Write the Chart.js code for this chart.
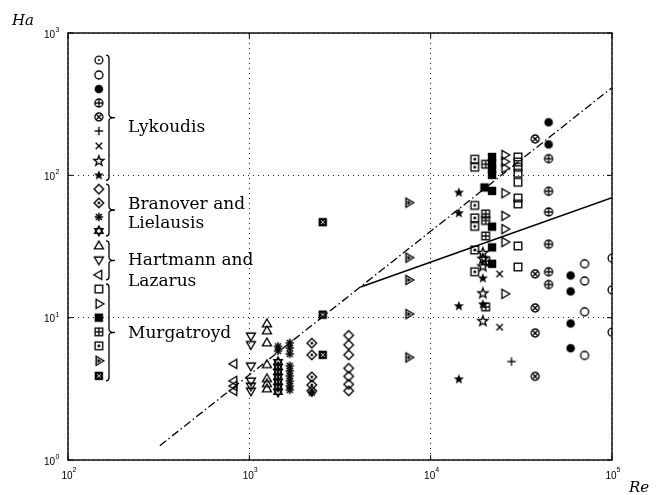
<!DOCTYPE html>
<html><head><meta charset="utf-8">
<script src="https://cdn.jsdelivr.net/npm/chart.js@4.4.1/dist/chart.umd.min.js"></script>
<style>html,body{margin:0;padding:0;background:#fff;}</style>
</head><body>
<canvas id="c" width="665" height="495"></canvas>
<script>
// ---------- DATA (Re, Ha) ----------
const xTickValues = [100, 1000, 10000, 100000];
const yTickValues = [1, 10, 100, 1000];
const xTickExp = ['2','3','4','5'];
const yTickExp = ['0','1','2','3'];

// Lykoudis
const lykDotCircle = [[1e5,26.2],[1e5,15.7],[1e5,7.9]];
const lykCircle = [[70600,23.9],[70600,18.1],[70600,11.0],[70600,5.43]];
const lykFilled = [[59100,19.8],[59100,15.3],[59100,9.1],[59100,6.1],[44700,236],[44700,165]];
const lykCirclePlus = [[44700,131],[44700,77.3],[44700,55.3],[44700,32.8],[44700,21.0],[44700,17.1]];
const lykCircleX = [[37700,180],[37700,20.3],[37700,11.7],[37700,7.8],[37700,3.87]];
const lykPlus = [[27900,4.92]];
const lykCross = [[24000,20.3],[24000,8.57]];
const lykStarOpen = [[19400,28.5],[19400,25.9],[19400,22.9],[19400,14.8],[19400,9.45]];
const lykStarFilled = [[19400,18.9],[19400,12.4],[14300,75.6],[14300,54.2],[14300,12.05],[14300,3.69]];
// Branover and Lielausis
const braDiamond = [[3530,7.51],[3530,6.44],[3530,5.48],[3530,4.41],[3530,3.87],[3530,3.40],[3530,3.06]];
const braDiamondDot = [[2210,6.62],[2210,5.48],[2210,3.84],[2210,3.37],[2210,3.06]];
const braAsterisk = [[1670,6.65],[1670,6.14],[1670,5.57],[1670,4.59],[1670,4.23],[1670,3.90],[1670,3.60],[1670,3.32],[1670,3.11],[2210,2.97],[1440,6.29],[1440,5.85]];
const braHexagram = [[1440,4.89],[1440,4.51],[1440,4.16],[1440,3.84],[1440,3.54],[1440,3.27],[1440,3.01]];
// Hartmann and Lazarus
const harTriUp = [[1250,9.04],[1250,8.07],[1250,6.65],[1250,4.67],[1250,3.72],[1250,3.43],[1250,3.16]];
const harTriDown = [[1020,7.45],[1020,6.49],[1020,4.59],[1020,3.60],[1020,3.32],[1020,3.06]];
const harTriLeft = [[822,4.74],[822,3.60],[822,3.32],[822,3.06]];
// Murgatroyd
const murSquare = [[30300,134.6],[30300,124],[30300,114],[30300,103.5],[30300,89.5],[30300,69.3],[30300,63],[30300,31.9],[30300,22.7]];
const murTriRight = [[25600,139],[25600,124.7],[25600,112.2],[25600,74.9],[25600,51.9],[25600,41.9],[25600,34.0],[25600,14.7]];
const murFilledSquare = [[21800,134.6],[21800,121.6],[21800,110.3],[21800,100.7],[21800,77.7],[21800,43.6],[21800,31.2],[21800,23.9],[19800,82.2]];
const murSquarePlus = [[20100,119.7],[20100,53.6],[20100,48.2],[20100,37.5],[20100,25.1],[20100,11.9]];
const murSquareDot = [[17500,129.8],[17500,114],[17500,61.5],[17500,50.2],[17500,43.8],[17500,29.9],[17500,21.0]];
const murTriRightDot = [[7570,64.3],[7570,26.4],[7570,18.4],[7570,10.6],[7570,5.25]];
const murSquareX = [[2540,46.9],[2540,10.5],[2540,5.48]];

// correlation lines
const dashDotLine = [[321,1.26],[1e5,413]];
const solidLine = [[4110,16.4],[1e5,69.7]];

// key column (markers drawn at Re = keyRe)
const keyRe = 148;
const keyMarkers = ['dotcircle','circle','fcircle','circplus','circx','plus','cross','starOpen','starFilled',
  'diamond','diamondDot','asterisk','hexagram',
  'triUp','triDown','triLeft',
  'square','triRight','fsquare','sqPlus','sqDot','triRightDot','sqX'];
const keyHa = [645,507,404,322,257,205,161,126,100, 80,64,51,40.7, 31.9,25.5,20, 15.9,12.5,10,7.95,6.34,4.98,3.9];
const groupNames = [['Lykoudis'],['Branover and','Lielausis'],['Hartmann and','Lazarus'],['Murgatroyd']];
const groupSizes = [9,4,3,7];

// ---------- MARKERS ----------
function mk(draw){const c=document.createElement('canvas');c.width=c.height=14;const g=c.getContext('2d');
  g.translate(7,7);g.strokeStyle='#000';g.fillStyle='#000';g.lineWidth=1.35;draw(g);return c;}
const circ=(g,r)=>{g.beginPath();g.arc(0,0,r,0,Math.PI*2);g.stroke();};
const line=(g,a,b,c,d)=>{g.beginPath();g.moveTo(a,b);g.lineTo(c,d);g.stroke();};
const star=(g,R,r,fill)=>{g.beginPath();for(let i=0;i<10;i++){const rr=i%2?r:R;const t=-Math.PI/2+i*Math.PI/5;g.lineTo(rr*Math.cos(t),rr*Math.sin(t));}g.closePath();fill?g.fill():g.stroke();};
const tri=(g,rot)=>{g.save();g.rotate(rot);g.beginPath();g.moveTo(0,-5);g.lineTo(4.5,2.8);g.lineTo(-4.5,2.8);g.closePath();g.stroke();g.restore();};
const dia=(g,r)=>{g.beginPath();g.moveTo(0,-r);g.lineTo(r,0);g.lineTo(0,r);g.lineTo(-r,0);g.closePath();};
const M = {
  dotcircle: mk(g=>{circ(g,3.9);g.beginPath();g.arc(0,0,1.1,0,7);g.fill();}),
  circle: mk(g=>circ(g,4)),
  fcircle: mk(g=>{g.beginPath();g.arc(0,0,4.3,0,7);g.fill();}),
  circplus: mk(g=>{circ(g,4);line(g,-4,0,4,0);line(g,0,-4,0,4);}),
  circx: mk(g=>{circ(g,4);line(g,-2.7,-2.7,2.7,2.7);line(g,-2.7,2.7,2.7,-2.7);}),
  plus: mk(g=>{line(g,-4.3,0,4.3,0);line(g,0,-4.3,0,4.3);}),
  cross: mk(g=>{line(g,-3.2,-3.2,3.2,3.2);line(g,-3.2,3.2,3.2,-3.2);}),
  starOpen: mk(g=>star(g,5.3,2.2,false)),
  starFilled: mk(g=>star(g,5.3,2.3,true)),
  diamond: mk(g=>{dia(g,4.8);g.stroke();}),
  diamondDot: mk(g=>{dia(g,4.8);g.stroke();dia(g,1.7);g.fill();}),
  asterisk: mk(g=>{g.lineWidth=1.5;for(let i=0;i<4;i++){const t=i*Math.PI/4;line(g,-4.2*Math.cos(t),-4.2*Math.sin(t),4.2*Math.cos(t),4.2*Math.sin(t));}}),
  hexagram: mk(g=>{for(const s of [1,-1]){g.beginPath();g.moveTo(0,-4.8*s);g.lineTo(4.2,2.4*s);g.lineTo(-4.2,2.4*s);g.closePath();g.stroke();}}),
  triUp: mk(g=>tri(g,0)),
  triDown: mk(g=>tri(g,Math.PI)),
  triLeft: mk(g=>tri(g,-Math.PI/2)),
  triRight: mk(g=>tri(g,Math.PI/2)),
  square: mk(g=>g.strokeRect(-3.8,-3.8,7.6,7.6)),
  fsquare: mk(g=>g.fillRect(-4.2,-4.2,8.4,8.4)),
  sqPlus: mk(g=>{g.strokeRect(-3.8,-3.8,7.6,7.6);line(g,-3.8,0,3.8,0);line(g,0,-3.8,0,3.8);}),
  sqDot: mk(g=>{g.strokeRect(-3.8,-3.8,7.6,7.6);g.fillRect(-1.3,-1.3,2.6,2.6);}),
  triRightDot: mk(g=>{tri(g,Math.PI/2);g.beginPath();g.moveTo(2.4,0);g.lineTo(-1.5,-2.2);g.lineTo(-1.5,2.2);g.closePath();g.fill();}),
  sqX: mk(g=>{g.fillRect(-4.2,-4.2,8.4,8.4);g.strokeStyle='#fff';g.lineWidth=0.8;line(g,-2,-2,2,2);line(g,-2,2,2,-2);})
};

const series = [
  ['dotcircle',lykDotCircle],['circle',lykCircle],['fcircle',lykFilled],['circplus',lykCirclePlus],['circx',lykCircleX],
  ['plus',lykPlus],['cross',lykCross],['starOpen',lykStarOpen],['starFilled',lykStarFilled],
  ['diamond',braDiamond],['diamondDot',braDiamondDot],['asterisk',braAsterisk],['hexagram',braHexagram],
  ['triUp',harTriUp],['triDown',harTriDown],['triLeft',harTriLeft],
  ['square',murSquare],['triRight',murTriRight],['fsquare',murFilledSquare],['sqPlus',murSquarePlus],
  ['sqDot',murSquareDot],['triRightDot',murTriRightDot],['sqX',murSquareX]
];
const toXY = arr => arr.map(p=>({x:p[0],y:p[1]}));

const datasets = [
  {data:toXY(dashDotLine),showLine:true,pointRadius:0,borderColor:'#000',borderWidth:1.3,borderDash:[8,3,1.5,3]},
  {data:toXY(solidLine),showLine:true,pointRadius:0,borderColor:'#000',borderWidth:1.6}
];
series.forEach(([m,arr])=>{
  const kIdx = keyMarkers.indexOf(m);
  datasets.push({data:toXY(arr).concat([{x:keyRe,y:keyHa[kIdx]}]),pointStyle:M[m],pointRadius:5,showLine:false});
});

// ---------- DECORATION ----------
const decor = {
  id:'decor',
  afterDraw(chart){
    const {ctx, chartArea:a, scales:{x,y}} = chart;
    ctx.save();
    ctx.strokeStyle='#000';ctx.fillStyle='#000';
    ctx.lineWidth=1.4;
    ctx.strokeRect(a.left,a.top,a.right-a.left,a.bottom-a.top);
    ctx.lineWidth=1;
    xTickValues.forEach(v=>{const p=x.getPixelForValue(v);ctx.beginPath();ctx.moveTo(p,a.bottom);ctx.lineTo(p,a.bottom-5);ctx.moveTo(p,a.top);ctx.lineTo(p,a.top+5);ctx.stroke();});
    yTickValues.forEach(v=>{const p=y.getPixelForValue(v);ctx.beginPath();ctx.moveTo(a.left,p);ctx.lineTo(a.left+5,p);ctx.moveTo(a.right,p);ctx.lineTo(a.right-5,p);ctx.stroke();});
    // tick labels
    ctx.textBaseline='middle';
    xTickValues.forEach((v,i)=>{const p=x.getPixelForValue(v);
      ctx.font='10px "Liberation Sans", Arial, sans-serif';ctx.textAlign='center';ctx.fillText('10',p-1,a.bottom+16);
      ctx.font='7px "Liberation Sans", Arial, sans-serif';ctx.textAlign='left';ctx.fillText(xTickExp[i],p+4.5,a.bottom+10);});
    yTickValues.forEach((v,i)=>{const p=y.getPixelForValue(v);
      ctx.font='10px "Liberation Sans", Arial, sans-serif';ctx.textAlign='right';ctx.fillText('10',a.left-13,p+2);
      ctx.font='7px "Liberation Sans", Arial, sans-serif';ctx.textAlign='left';ctx.fillText(yTickExp[i],a.left-12.5,p-3);});
    // axis titles
    ctx.font='italic 15px "DejaVu Serif", "Liberation Serif", serif';ctx.textBaseline='alphabetic';ctx.textAlign='left';
    ctx.fillText('Ha',12,25);
    ctx.fillText('Re',629,492);
    // braces and group labels
    const bx=109, offs=[[14],[-1,18],[4.5,25.5],[5.5]];
    let k=0;
    ctx.lineWidth=1.3;
    groupSizes.forEach((n,gi)=>{
      const y1=y.getPixelForValue(keyHa[k])-5, y2=y.getPixelForValue(keyHa[k+n-1])+5;k+=n;
      const ym=(y1+y2)/2,w=3;
      ctx.beginPath();ctx.moveTo(bx-w,y1);ctx.quadraticCurveTo(bx,y1,bx,y1+w);ctx.lineTo(bx,ym-w);
      ctx.quadraticCurveTo(bx,ym,bx+6,ym);ctx.quadraticCurveTo(bx,ym,bx,ym+w);ctx.lineTo(bx,y2-w);
      ctx.quadraticCurveTo(bx,y2,bx-w,y2);ctx.stroke();
      ctx.font='17px "DejaVu Serif", "Liberation Serif", serif';
      groupNames[gi].forEach((t,li)=>ctx.fillText(t,128,ym+offs[gi][li]));
    });
    ctx.restore();
  }
};

new Chart(document.getElementById('c'),{
  type:'scatter',
  data:{datasets},
  options:{
    responsive:false,animation:false,
    layout:{padding:{left:68,right:53,top:33,bottom:35}},
    plugins:{legend:{display:false},tooltip:{enabled:false}},
    scales:{
      x:{type:'logarithmic',min:100,max:100000,
        afterBuildTicks:s=>{s.ticks=xTickValues.map(v=>({value:v}));},
        ticks:{display:false},grid:{drawTicks:false,color:'#222',lineWidth:1},border:{display:false,dash:[1,4]}},
      y:{type:'logarithmic',min:1,max:1000,
        afterBuildTicks:s=>{s.ticks=yTickValues.map(v=>({value:v}));},
        ticks:{display:false},grid:{drawTicks:false,color:'#222',lineWidth:1},border:{display:false,dash:[1,4]}}
    }
  },
  plugins:[decor]
});
</script>
</body></html>
